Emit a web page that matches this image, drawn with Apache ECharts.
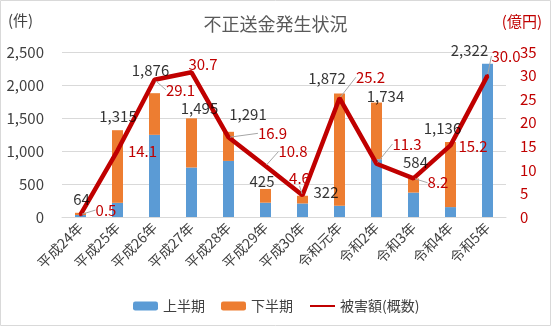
<!DOCTYPE html>
<html><head><meta charset="utf-8">
<script src="https://cdn.jsdelivr.net/npm/echarts@6/dist/echarts.min.js"></script>
<style>html,body{margin:0;padding:0;background:#fff}#c{width:551px;height:326px}</style>
</head><body><div id="c"></div>
<script>
// ---- data ----
const categories = ['平成24年','平成25年','平成26年','平成27年','平成28年','平成29年','平成30年','令和元年','令和2年','令和3年','令和4年','令和5年'];
const firstHalf  = [30, 215, 1245, 750, 850, 217, 205, 170, 875, 370, 150, 2322];
const secondHalf = [34, 1100, 631, 745, 441, 208, 117, 1702, 859, 214, 986, 0];
const totals     = [64, 1315, 1876, 1495, 1291, 425, 322, 1872, 1734, 584, 1136, 2322];
const damage     = [0.5, 14.1, 29.1, 30.7, 16.9, 10.8, 4.6, 25.2, 11.3, 8.2, 15.2, 30.0];
const leftTicks  = { min: 0, max: 2500, interval: 500 };
const rightTicks = { min: 0, max: 35, interval: 5 };

// ---- label placement (style) ----
const lineLabelShift = [[25.5,-4.6],[25,1],[26,10],[11.5,-8],[44,-4],[27.5,-14.5],[-3,-17],[31,-21],[30.5,-19.7],[24.5,4.4],[22.5,1.4],[18.5,-19.6]];
const lineLeader = [true,false,true,false,true,true,true,true,true,true,false,true];
const totalLabelShift = [[1,-13.5],[0.5,-13.5],[-4,-23],[8,-10],[19.5,-17.5],[-3.5,-7.5],[23.5,-3.4],[-12.5,-15],[9,-6],[2,-16],[-8,-13.7],[-18,-13.7]];

const FONT = '"Noto Sans CJK JP", "Noto Sans", sans-serif';
const RED = '#C00000';
const fmt = v => Number(v).toLocaleString('en-US');

const chart = echarts.init(document.getElementById('c'), null, {renderer: 'canvas'});
chart.setOption({
  animation: false,
  textStyle: { fontFamily: FONT },
  graphic: [
    { type: 'rect', shape: { x: 0.5, y: 0.5, width: 550, height: 325 }, style: { fill: 'none', stroke: '#D9D9D9', lineWidth: 1 }, silent: true },
    { type: 'text', left: 8, top: 13, style: { text: '(件)', font: '15px ' + FONT, fill: '#404040' } },
    { type: 'text', right: 9, top: 14, style: { text: '(億円)', font: '15px ' + FONT, fill: RED } }
  ],
  title: {
    text: '不正送金発生状況', left: 'center', top: 10,
    textStyle: { fontFamily: FONT, fontSize: 18, fontWeight: 'normal', color: '#595959' }
  },
  legend: {
    data: ['上半期', '下半期', { name: '被害額(概数)', itemStyle: { opacity: 0 } }],
    bottom: 8, left: 128, itemWidth: 25, itemHeight: 9, itemGap: 16,
    textStyle: { fontFamily: FONT, fontSize: 14, color: '#404040' }
  },
  grid: { left: 62, right: 45, top: 52, bottom: 109 },
  xAxis: {
    type: 'category', data: categories,
    axisTick: { show: false },
    axisLine: { lineStyle: { color: '#D9D9D9' } },
    axisLabel: { rotate: 45, fontSize: 14, color: '#404040', margin: 8, interval: 0, fontFamily: FONT }
  },
  yAxis: [
    {
      type: 'value', min: leftTicks.min, max: leftTicks.max, interval: leftTicks.interval,
      axisLine: { show: false }, axisTick: { show: false },
      splitLine: { lineStyle: { color: '#D9D9D9' } },
      axisLabel: { fontSize: 15, color: '#404040', margin: 18, formatter: fmt, fontFamily: FONT }
    },
    {
      type: 'value', min: rightTicks.min, max: rightTicks.max, interval: rightTicks.interval,
      axisLine: { show: false }, axisTick: { show: false }, splitLine: { show: false },
      axisLabel: { fontSize: 15, color: RED, margin: 14, fontFamily: FONT }
    }
  ],
  series: [
    { name: '上半期', type: 'bar', stack: 'n', barWidth: 11, data: firstHalf, itemStyle: { color: '#5B9BD5' } },
    { name: '下半期', type: 'bar', stack: 'n', barWidth: 11, data: secondHalf, itemStyle: { color: '#ED7D31' } },
    {
      name: '被害額(概数)', type: 'line', yAxisIndex: 1, z: 5,
      data: damage.map((v, i) => ({ value: v, labelLine: { show: lineLeader[i] } })),
      symbol: 'circle', symbolSize: 3,
      itemStyle: { color: RED }, lineStyle: { color: RED, width: 4.5 },
      label: { show: true, position: 'inside', fontSize: 15, color: RED, fontFamily: FONT, formatter: p => p.value.toFixed(1) },
      labelLayout: p => ({ dx: lineLabelShift[p.dataIndex][0], dy: lineLabelShift[p.dataIndex][1] }),
      labelLine: { show: true, lineStyle: { color: '#A6A6A6', width: 1 } }
    },
    {
      name: 'totals', type: 'scatter', yAxisIndex: 0, z: 6, silent: true,
      data: totals, symbolSize: 1, itemStyle: { color: 'transparent' },
      label: { show: true, position: 'inside', fontSize: 15, color: '#000', fontFamily: FONT, formatter: p => fmt(p.value) },
      labelLayout: p => ({ dx: totalLabelShift[p.dataIndex][0], dy: totalLabelShift[p.dataIndex][1] })
    }
  ]
});
</script></body></html>
